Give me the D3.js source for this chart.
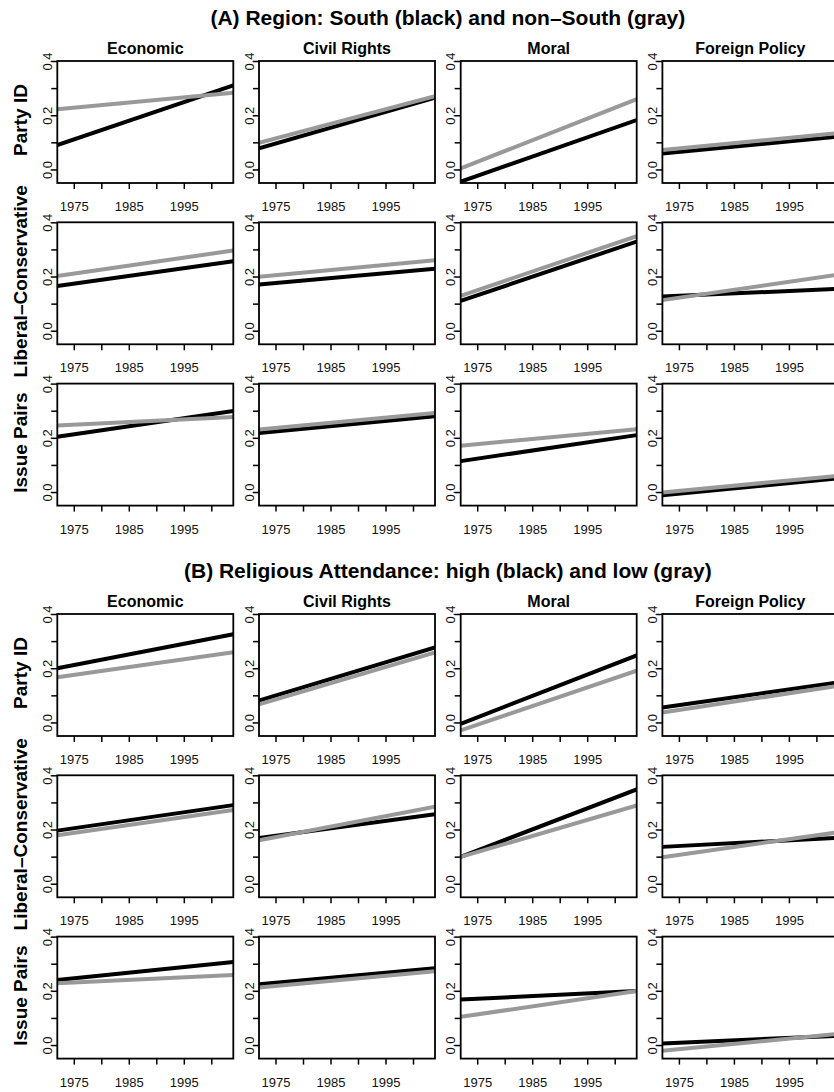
<!DOCTYPE html>
<html>
<head>
<meta charset="utf-8">
<script src="https://cdn.jsdelivr.net/npm/d3@7"></script>
<style>
    body { margin: 0; background: #fff; }
    svg { display: block; font-family: "Liberation Sans", Arial, Helvetica, sans-serif; }
</style>
</head>
<body>
<div id="container"></div>
<script>
"use strict"

const issues = ["Economic", "Civil Rights", "Moral", "Foreign Policy"];
const measures = ["Party ID", "Liberal–Conservative", "Issue Pairs"];
const yearRange = [1972, 2004];
const yearTicks = [1975, 1980, 1985, 1990, 1995, 2000];
const yearLabels = [1975, 1985, 1995];
const valueRange = [-0.05, 0.4];
const valueTicks = [0, 0.1, 0.2, 0.3, 0.4];
const valueLabels = [0, 0.2, 0.4];

// fitted values at 1972 and 2004: one row per measure, one pair per issue
const south = [
    [[0.090, 0.310], [0.078, 0.265], [-0.045, 0.182], [0.059, 0.121]],
    [[0.165, 0.256], [0.171, 0.229], [0.110, 0.329], [0.126, 0.155]],
    [[0.204, 0.299], [0.218, 0.280], [0.114, 0.210], [-0.012, 0.051]]
];
const nonSouth = [
    [[0.222, 0.283], [0.098, 0.270], [0.004, 0.259], [0.072, 0.134]],
    [[0.202, 0.296], [0.199, 0.260], [0.129, 0.349], [0.113, 0.207]],
    [[0.245, 0.277], [0.231, 0.292], [0.171, 0.232], [-0.002, 0.060]]
];
const attendHigh = [
    [[0.200, 0.325], [0.081, 0.277], [-0.005, 0.247], [0.055, 0.148]],
    [[0.196, 0.290], [0.169, 0.256], [0.099, 0.348], [0.136, 0.170]],
    [[0.240, 0.306], [0.224, 0.283], [0.168, 0.199], [0.006, 0.034]]
];
const attendLow = [
    [[0.167, 0.259], [0.067, 0.258], [-0.029, 0.191], [0.037, 0.135]],
    [[0.179, 0.272], [0.160, 0.284], [0.099, 0.289], [0.098, 0.190]],
    [[0.228, 0.258], [0.212, 0.272], [0.104, 0.199], [-0.021, 0.041]]
];

const blocks = [
    { title: "(A) Region: South (black) and non–South (gray)", top: 61, dark: south, light: nonSouth },
    { title: "(B) Religious Attendance: high (black) and low (gray)", top: 614, dark: attendHigh, light: attendLow }
];

const fontFamily = "'Liberation Sans', Arial, Helvetica, sans-serif";
const width = 834;
const height = 1092;
const panelLeft = 57.3;
const colStep = 201.7;
const rowStep = 161.3;
const panelW = 176;
const panelH = 122;
const darkColor = "#000";
const lightColor = "#999";

let svg;


function Main()
{
    svg = d3.select("#container").append("svg")
        .attr("width", width)
        .attr("height", height)
        .attr("font-family", fontFamily);

    blocks.forEach(DrawBlock);
};


function DrawBlock(block)
{
    const centerX = panelLeft + (3 * colStep + panelW) / 2;

    svg.append("text")
        .attr("x", centerX)
        .attr("y", block.top - 36)
        .attr("text-anchor", "middle")
        .attr("font-size", "21px")
        .attr("font-weight", "bold")
        .text(block.title);

    measures.forEach((measure, r) => {
        const top = block.top + r * rowStep;

        svg.append("text")
            .attr("transform", `translate(27, ${top + panelH / 2 - 2}) rotate(-90)`)
            .attr("text-anchor", "middle")
            .attr("font-size", "19px")
            .attr("font-weight", "bold")
            .text(measure);

        issues.forEach((issue, c) => {
            const left = panelLeft + c * colStep;
            DrawPanel(left, top, block.dark[r][c], block.light[r][c], r == 0 ? issue : null);
        });
    });
};


function DrawPanel(left, top, darkValues, lightValues, title)
{
    const x = d3.scaleLinear().domain(yearRange).range([left, left + panelW]);
    const y = d3.scaleLinear().domain(valueRange).range([top + panelH, top]);

    const line = d3.line()
        .x(d => x(d[0]))
        .y(d => y(d[1]));

    const g = svg.append("g");

    // clip so the thick lines stop at the box
    const clipId = `clip-${Math.round(left)}-${Math.round(top)}`;
    g.append("clipPath")
        .attr("id", clipId)
        .append("rect")
        .attr("x", left)
        .attr("y", top)
        .attr("width", panelW)
        .attr("height", panelH);

    [[darkValues, darkColor], [lightValues, lightColor]].forEach(([values, color]) => {
        g.append("path")
            .datum(yearRange.map((year, i) => [year, values[i]]))
            .attr("clip-path", `url(#${clipId})`)
            .attr("fill", "none")
            .attr("stroke", color)
            .attr("stroke-width", 4)
            .attr("d", line);
    });

    // y axis, labels turned parallel to the axis as in R
    const yAxis = g.append("g")
        .attr("transform", `translate(${left}, 0)`)
        .call(d3.axisLeft(y)
            .tickValues(valueTicks)
            .tickSize(6)
            .tickFormat(d => valueLabels.some(v => Math.abs(v - d) < 1e-9) ? d3.format(".1f")(d) : ""));
    StyleAxis(yAxis);
    yAxis.selectAll(".tick text")
        .attr("transform", "rotate(-90)")
        .attr("x", 0)
        .attr("y", -5.5)
        .attr("dy", 0)
        .attr("text-anchor", "middle");

    const xAxis = g.append("g")
        .attr("transform", `translate(0, ${top + panelH})`)
        .call(d3.axisBottom(x)
            .tickValues(yearTicks)
            .tickSize(6)
            .tickFormat(d => yearLabels.includes(d) ? String(d) : ""));
    StyleAxis(xAxis);
    xAxis.selectAll(".tick text")
        .attr("y", 28)
        .attr("dy", 0);

    g.append("rect")
        .attr("x", left)
        .attr("y", top)
        .attr("width", panelW)
        .attr("height", panelH)
        .attr("fill", "none")
        .attr("stroke", "#000")
        .attr("stroke-width", 1.8);

    if(title)
    {
        g.append("text")
            .attr("x", left + panelW / 2)
            .attr("y", top - 7)
            .attr("text-anchor", "middle")
            .attr("font-size", "16px")
            .attr("font-weight", "bold")
            .text(title);
    }
};


function StyleAxis(axis)
{
    axis.attr("font-family", fontFamily)
        .attr("font-size", 13);
    axis.select(".domain").remove();
    axis.selectAll(".tick line")
        .attr("stroke", "#000")
        .attr("stroke-width", 1.5);
    axis.selectAll(".tick text")
        .attr("fill", "#111");
};


Main();
</script>
</body>
</html>
